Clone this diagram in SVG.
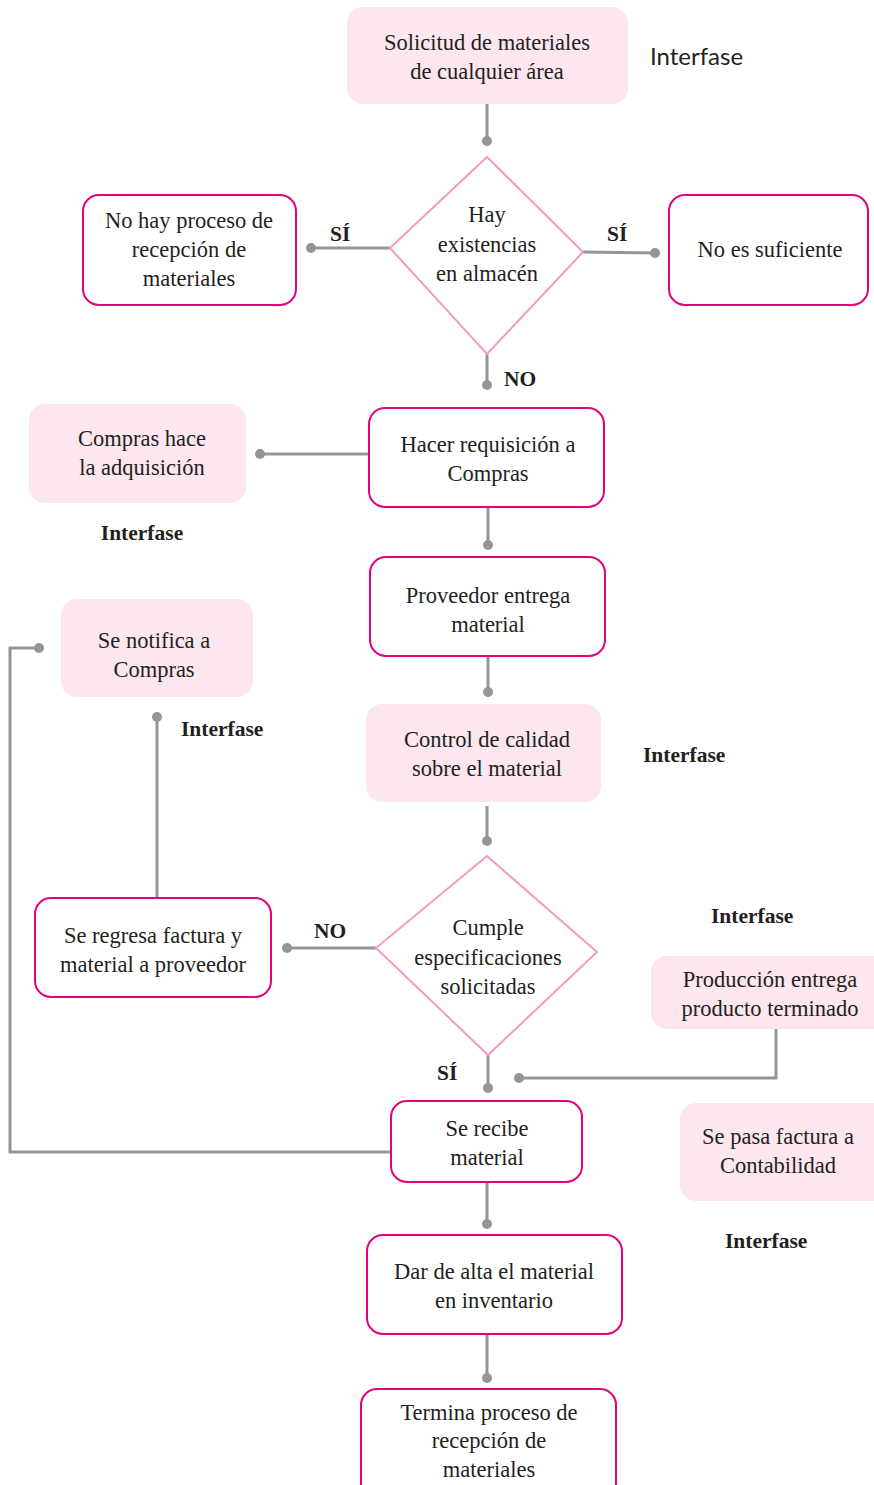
<svg xmlns="http://www.w3.org/2000/svg" width="874" height="1485" viewBox="0 0 874 1485">
<style>
.pink{fill:#fce6ef;stroke:none}
.box{fill:#fff;stroke:#e6007e;stroke-width:2}
.dia{fill:#fff;stroke:#f39bc3;stroke-width:2}
.t{font-family:"Liberation Serif",serif;font-size:22.5px;fill:#231f20;text-anchor:middle}
.b{font-family:"Liberation Serif",serif;font-size:21.5px;font-weight:bold;fill:#231f20}
.s{font-family:Lato,"Liberation Sans",sans-serif;font-size:24px;fill:#231f20}
.c{fill:none;stroke:#939598;stroke-width:3}
.d{fill:#939598}
</style>
<rect width="874" height="1485" fill="#fff"/>
<g id="connectors">
<path class="c" d="M487 104V141"/><circle class="d" cx="487" cy="141" r="5"/>
<path class="c" d="M390 248H311"/><circle class="d" cx="311" cy="248" r="5"/>
<path class="c" d="M583 252L655 253"/><circle class="d" cx="655" cy="253" r="5"/>
<path class="c" d="M487 354V385"/><circle class="d" cx="487" cy="385" r="5"/>
<path class="c" d="M369 454H260"/><circle class="d" cx="260" cy="454" r="5"/>
<path class="c" d="M488 507V545"/><circle class="d" cx="488" cy="545" r="5"/>
<path class="c" d="M488 656V692"/><circle class="d" cx="488" cy="692" r="5"/>
<path class="c" d="M487 806V841"/><circle class="d" cx="487" cy="841" r="5"/>
<path class="c" d="M376 948H287"/><circle class="d" cx="287" cy="948" r="5"/>
<path class="c" d="M157 898V717"/><circle class="d" cx="157" cy="717" r="5"/>
<path class="c" d="M391 1152H10V648H39"/><circle class="d" cx="39" cy="648" r="5"/>
<path class="c" d="M488 1055V1088"/><circle class="d" cx="488" cy="1088" r="5"/>
<path class="c" d="M776 1029V1078H519"/><circle class="d" cx="519" cy="1078" r="5"/>
<path class="c" d="M487 1182V1224"/><circle class="d" cx="487" cy="1224" r="5"/>
<path class="c" d="M487 1334V1378"/><circle class="d" cx="487" cy="1378" r="5"/>
</g>
<g id="labels">
<text class="s" x="650" y="65">Interfase</text>
<text class="b" x="330" y="241">SÍ</text>
<text class="b" x="607" y="241">SÍ</text>
<text class="b" x="504" y="386">NO</text>
<text class="b" x="142" y="540" text-anchor="middle">Interfase</text>
<text class="b" x="181" y="736">Interfase</text>
<text class="b" x="643" y="762">Interfase</text>
<text class="b" x="314" y="938">NO</text>
<text class="b" x="711" y="923">Interfase</text>
<text class="b" x="437" y="1080">SÍ</text>
<text class="b" x="725" y="1248">Interfase</text>
</g>
<g id="n1"><rect class="pink" x="347" y="7" width="281" height="97" rx="16"/>
<text class="t" x="487" y="50">Solicitud de materiales</text><text class="t" x="487" y="79">de cualquier área</text></g>
<g id="d1"><polygon class="dia" points="487,157 583,252 487,354 390,248"/>
<text class="t" x="487" y="222">Hay</text><text class="t" x="487" y="252">existencias</text><text class="t" x="487" y="281">en almacén</text></g>
<g id="n2"><rect class="box" x="83" y="195" width="213" height="110" rx="16"/>
<text class="t" x="189" y="228">No hay proceso de</text><text class="t" x="189" y="257">recepción de</text><text class="t" x="189" y="286">materiales</text></g>
<g id="n3"><rect class="box" x="669" y="195" width="199" height="110" rx="16"/>
<text class="t" x="770" y="257">No es suficiente</text></g>
<g id="n4"><rect class="box" x="369" y="408" width="235" height="99" rx="16"/>
<text class="t" x="488" y="452">Hacer requisición a</text><text class="t" x="488" y="481">Compras</text></g>
<g id="n5"><rect class="pink" x="29" y="404" width="217" height="99" rx="16"/>
<text class="t" x="142" y="446">Compras hace</text><text class="t" x="142" y="475">la adquisición</text></g>
<g id="n6"><rect class="box" x="370" y="557" width="235" height="99" rx="16"/>
<text class="t" x="488" y="603">Proveedor entrega</text><text class="t" x="488" y="632">material</text></g>
<g id="n7"><rect class="pink" x="61" y="599" width="192" height="98" rx="16"/>
<text class="t" x="154" y="648">Se notifica a</text><text class="t" x="154" y="677">Compras</text></g>
<g id="n8"><rect class="pink" x="366" y="704" width="235" height="98" rx="16"/>
<text class="t" x="487" y="747">Control de calidad</text><text class="t" x="487" y="776">sobre el material</text></g>
<g id="d2"><polygon class="dia" points="487,856 597,952 488,1055 376,948"/>
<text class="t" x="488" y="935">Cumple</text><text class="t" x="488" y="965">especificaciones</text><text class="t" x="488" y="994">solicitadas</text></g>
<g id="n9"><rect class="box" x="35" y="898" width="236" height="99" rx="16"/>
<text class="t" x="153" y="943">Se regresa factura y</text><text class="t" x="153" y="972">material a proveedor</text></g>
<g id="n10"><rect class="pink" x="651" y="956" width="240" height="73" rx="16"/>
<text class="t" x="770" y="987">Producción entrega</text><text class="t" x="770" y="1016">producto terminado</text></g>
<g id="n11"><rect class="box" x="391" y="1101" width="191" height="81" rx="16"/>
<text class="t" x="487" y="1136">Se recibe</text><text class="t" x="487" y="1165">material</text></g>
<g id="n12"><rect class="pink" x="680" y="1103" width="210" height="98" rx="16"/>
<text class="t" x="778" y="1144">Se pasa factura a</text><text class="t" x="778" y="1173">Contabilidad</text></g>
<g id="n13"><rect class="box" x="367" y="1235" width="255" height="99" rx="16"/>
<text class="t" x="494" y="1279">Dar de alta el material</text><text class="t" x="494" y="1308">en inventario</text></g>
<g id="n14"><rect class="box" x="361" y="1389" width="255" height="110" rx="16"/>
<text class="t" x="489" y="1420">Termina proceso de</text><text class="t" x="489" y="1448">recepción de</text><text class="t" x="489" y="1477">materiales</text></g>
</svg>
